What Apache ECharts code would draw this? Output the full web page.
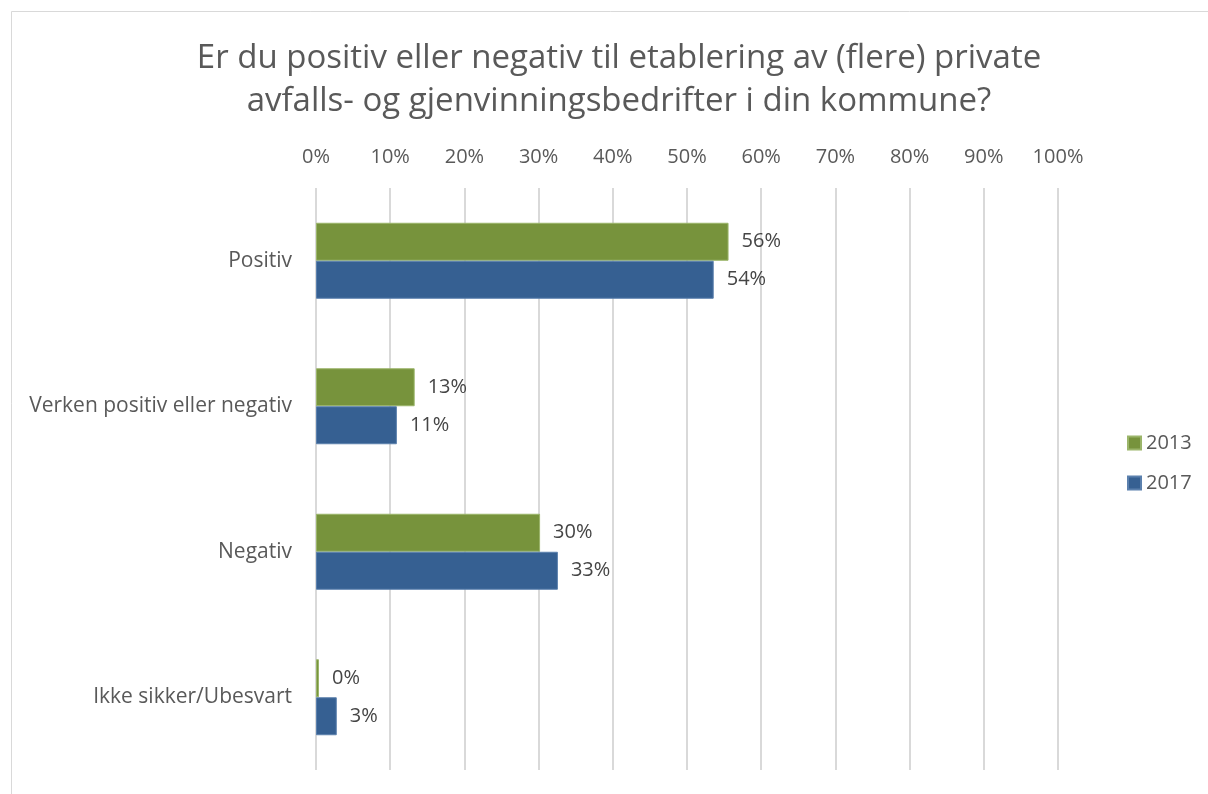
<!DOCTYPE html>
<html>
<head>
<meta charset="utf-8">
<script src="https://cdn.jsdelivr.net/npm/echarts@6/dist/echarts.min.js"></script>
<style>
  html, body { margin: 0; padding: 0; background: #fff; }
  #chart { width: 1208px; height: 794px; }
</style>
</head>
<body>
<div id="chart"></div>
<script>
const categories = ['Positiv', 'Verken positiv eller negativ', 'Negativ', 'Ikke sikker/Ubesvart'];
const seriesNames = ['2013', '2017'];
const values2013 = [55.6, 13.3, 30.2, 0.4];
const values2017 = [53.6, 10.9, 32.6, 2.8];
const tickMax = 100;
const tickStep = 10;

const chart = echarts.init(document.getElementById('chart'), null, { renderer: 'canvas' });

const font = '"Open Sans", sans-serif';
const textColor = '#595959';

// data labels are a bit darker than the axis text
const labelOpt = {
  show: true,
  position: 'right',
  distance: 13,
  color: '#454545',
  fontSize: 20,
  fontFamily: font,
  formatter: p => Math.round(p.value) + '%'
};

const option = {
  backgroundColor: '#fff',
  animation: false,
  graphic: [{
    type: 'rect',
    left: 9, top: 9,
    shape: { width: 1300, height: 900 },
    style: { fill: 'none', stroke: '#d9d9d9', lineWidth: 1 },
    silent: true
  }],
  title: {
    text: 'Er du positiv eller negativ til etablering av (flere) private\navfalls- og gjenvinningsbedrifter i din kommune?',
    left: 614,
    textAlign: 'center',
    top: 32,
    textStyle: {
      color: textColor,
      fontSize: 33,
      fontWeight: 'normal',
      fontFamily: font,
      lineHeight: 43
    }
  },
  legend: {
    orient: 'vertical',
    left: 1122,
    top: 428,
    itemWidth: 13,
    itemHeight: 13,
    itemGap: 20,
    icon: 'rect',
    textStyle: { color: textColor, fontSize: 20, fontFamily: font },
    data: seriesNames
  },
  grid: {
    left: 316,
    right: 150,
    top: 188,
    bottom: 24,
    containLabel: false
  },
  xAxis: {
    type: 'value',
    position: 'top',
    min: 0,
    max: tickMax,
    interval: tickStep,
    axisLine: { show: false },
    axisTick: { show: false },
    axisLabel: {
      color: textColor,
      fontSize: 20,
      fontFamily: font,
      margin: 21,
      formatter: v => v + '%'
    },
    splitLine: { lineStyle: { color: '#d9d9d9', width: 2 } }
  },
  yAxis: {
    type: 'category',
    inverse: true,
    data: categories,
    axisLine: { show: false },
    axisTick: { show: false },
    axisLabel: {
      color: textColor,
      fontSize: 21,
      fontFamily: font,
      margin: 24
    }
  },
  series: [
    {
      name: seriesNames[0],
      type: 'bar',
      data: values2013,
      barWidth: 38,
      barGap: '0%',
      itemStyle: { color: '#77933c', borderColor: '#9bb56a', borderWidth: 1 },
      label: labelOpt
    },
    {
      name: seriesNames[1],
      type: 'bar',
      data: values2017,
      barWidth: 38,
      barGap: '0%',
      itemStyle: { color: '#366092', borderColor: '#5b80ad', borderWidth: 1 },
      label: labelOpt
    }
  ]
};

chart.setOption(option);
</script>
</body>
</html>
